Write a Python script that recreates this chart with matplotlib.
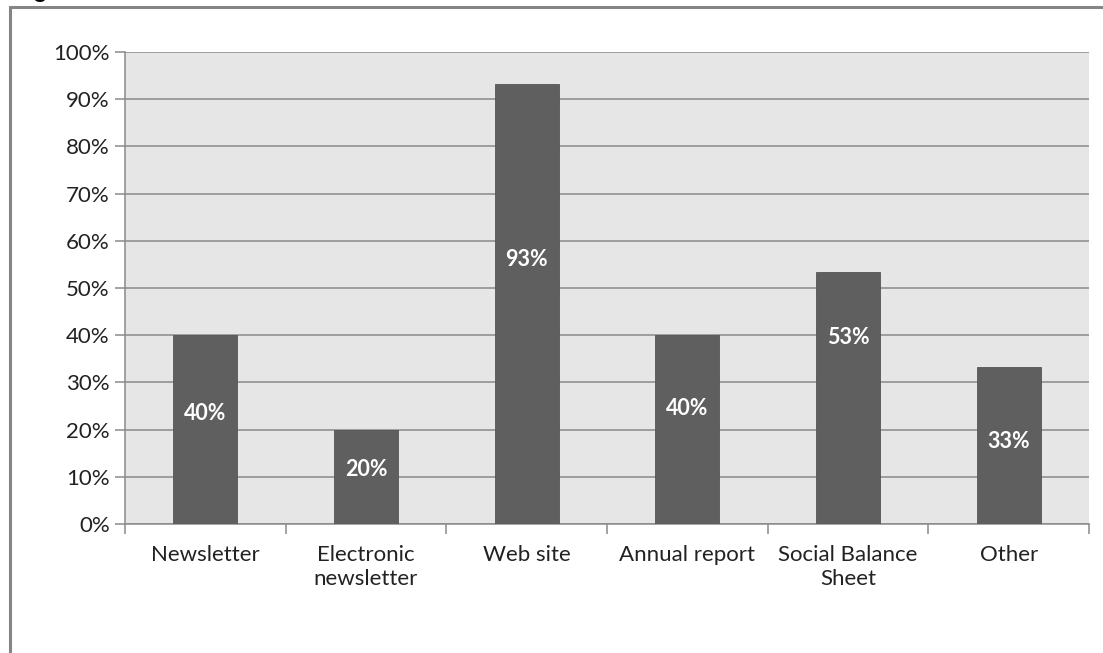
import matplotlib.pyplot as plt
from matplotlib.patches import Rectangle
import numpy as np

# chart data
categories = ["Newsletter", "Electronic\nnewsletter", "Web site", "Annual report",
              "Social Balance\nSheet", "Other"]
values = [40.0, 20.0, 93.3, 40.0, 53.3, 33.3]
value_labels = ["40%", "20%", "93%", "40%", "53%", "33%"]
yticks = [0, 10, 20, 30, 40, 50, 60, 70, 80, 90, 100]

# where each data label sits (in % units)
label_pos = [23.5, 11.5, 56.0, 24.5, 39.5, 17.5]

plt.rcParams['font.family'] = ['Lato', 'DejaVu Sans']

fig = plt.figure(figsize=(11.03, 6.53), dpi=100)
W, H = 1103.0, 653.0
ax = fig.add_axes([125 / W, 1 - 524 / H, (1089 - 125) / W, (524 - 52) / H])

x = np.arange(len(categories))
ax.set_facecolor("#e6e6e6")
ax.bar(x, values, width=0.40, color="#5f5f5f", edgecolor="#555555", linewidth=0.6, zorder=3)

for i in range(len(values)):
    ax.text(x[i], label_pos[i], value_labels[i], ha="center", va="center",
            color="white", fontsize=15.5, fontweight="bold", zorder=4)

ax.set_xlim(-0.5, len(categories) - 0.5)
ax.set_ylim(0, 100)
ax.set_yticks(yticks)
ax.set_yticklabels([str(t) + "%" for t in yticks], fontsize=16, color="#222222")
ax.yaxis.grid(True, color="#8a8a8a", linewidth=1.1, zorder=1)
ax.set_axisbelow(True)

ax.set_xticks(x)
ax.set_xticklabels(categories, fontsize=16, color="#222222", linespacing=1.25)
ax.tick_params(axis="x", length=0, pad=15)
ax.set_xticks(np.arange(len(categories) + 1) - 0.5, minor=True)
ax.tick_params(axis="x", which="minor", length=7, color="#8a8a8a", width=1.1)
ax.tick_params(axis="y", length=7, color="#8a8a8a", width=1.1, pad=4)

for s in ["top", "right"]:
    ax.spines[s].set_visible(False)
for s in ["left", "bottom"]:
    ax.spines[s].set_color("#8a8a8a")
    ax.spines[s].set_linewidth(1.1)

# outer frame round the chart
fig.patches.append(Rectangle((10 / W, -0.1), 1.2, 1 - 7 / H + 0.1, transform=fig.transFigure,
                             fill=False, edgecolor="#858585", linewidth=2.2))

# caption text cut off at the top edge
fig.text(12 / W, 1 + 3 / H, "Figure", fontsize=17, fontweight="bold", ha="left",
         va="baseline", color="black", family=["Liberation Sans"])

fig.savefig("out.png", dpi=100)
